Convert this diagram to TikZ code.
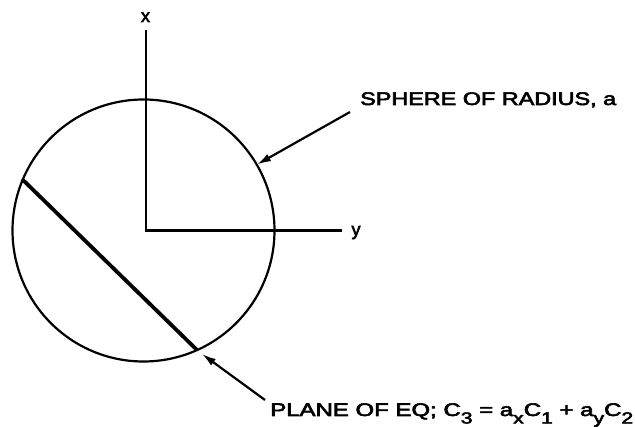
\documentclass[tikz,border=0pt]{standalone}
\usepackage{fontspec}
\setmainfont{Liberation Sans}
\newfontfamily\lettering[FakeBold=3]{Liberation Sans}
\usepackage{graphicx}
\usetikzlibrary{arrows.meta}
\newcommand{\lsub}[1]{\raisebox{-7pt}{\fontsize{15}{15}\selectfont #1}}
\begin{document}
\begin{tikzpicture}[x=1pt,y=-1pt,
  thinline/.style={line width=2.2pt},
  chord/.style={line width=3.8pt},
  ptr/.style={line width=2.2pt,-{Latex[length=14pt,width=8pt]}},
  lbl/.style={inner sep=0pt,anchor=base west,font=\fontsize{17}{17}\lettering},
  axlbl/.style={inner sep=0pt,anchor=base,font=\fontsize{18}{18}\lettering}]
\useasboundingbox (0,0) rectangle (635,427);
\coordinate (C) at (143.5,230.5);
\coordinate (O) at (145.7,230.5);
\coordinate (xtop) at (145.7,30);
\coordinate (yend) at (342,230.5);
\draw[thinline] (C) circle[radius=131];
\draw[thinline] (xtop) -- (O) -- (yend);
\node[axlbl] (xl) at (145.5,22) {x};
\node[axlbl] (yl) at (356,235.5) {y};
\coordinate (ch1) at (22,179);
\coordinate (ch2) at (197,350);
\draw[chord] (ch1) -- (ch2);
\node[lbl] (st) at (360,105) {\resizebox{256pt}{12.7pt}{SPHERE OF RADIUS, a}};
\coordinate (sa) at (350,112);
\coordinate (stip) at (257,164.5);
\draw[ptr] (sa) -- (stip);
\node[lbl] (pt) at (270,416) {\resizebox{363pt}{12.7pt}{PLANE OF EQ; C\lsub{3} = a\lsub{x}C\lsub{1} + a\lsub{y}C\lsub{2}}};
\coordinate (pa) at (265,400);
\coordinate (ptip) at (202,354);
\draw[ptr] (pa) -- (ptip);
\end{tikzpicture}
\end{document}
